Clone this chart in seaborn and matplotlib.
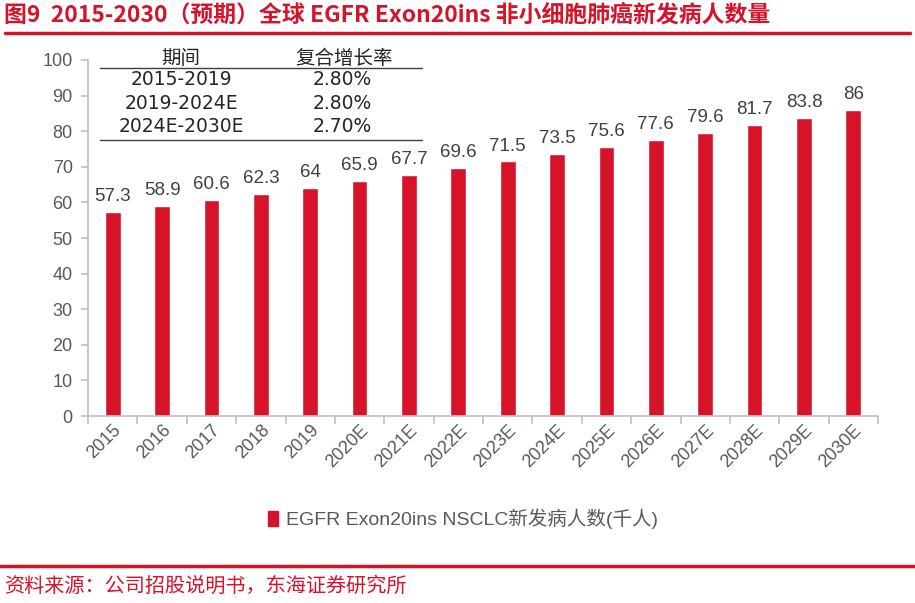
import pandas as pd
import seaborn as sns
import matplotlib.pyplot as plt
from matplotlib.patches import Patch

years = ["2015", "2016", "2017", "2018", "2019", "2020E", "2021E", "2022E",
         "2023E", "2024E", "2025E", "2026E", "2027E", "2028E", "2029E", "2030E"]
patients = [57.3, 58.9, 60.6, 62.3, 64, 65.9, 67.7, 69.6,
            71.5, 73.5, 75.6, 77.6, 79.6, 81.7, 83.8, 86]
periods = ["2015-2019", "2019-2024E", "2024E-2030E"]
cagr = ["2.80%", "2.80%", "2.70%"]

RED = "#D7132A"
GRAY = "#595959"
SERIES = "EGFR Exon20ins NSCLC新发病人数(千人)"

sns.set_theme(style="white")
plt.rcParams["font.family"] = ["Liberation Sans", "Noto Sans CJK SC", "DejaVu Sans"]
CJK = ["Noto Sans CJK SC", "DejaVu Sans"]
WIDE = ["DejaVu Sans", "Noto Sans CJK SC"]

df = pd.DataFrame({"year": years, "value": patients})

fig = plt.figure(figsize=(9.15, 6.03), dpi=100)
ax = fig.add_axes([0.0962, 0.3101, 0.8634, 0.5904])
sns.barplot(data=df, x="year", y="value", color=RED, width=0.32,
            saturation=1, ax=ax)

labels = [f"{v:g}" for v in patients]
ax.bar_label(ax.containers[0], labels=labels, padding=5, fontsize=13.5, color="#404040")

ax.set_xlim(-0.5, len(years) - 0.5)
ax.set_ylim(0, 100)
ax.set_yticks(range(0, 101, 10))
ax.set_xlabel("")
ax.set_ylabel("")
for s in ["top", "right"]:
    ax.spines[s].set_visible(False)
for s in ["left", "bottom"]:
    ax.spines[s].set_color("#BFBFBF")
    ax.spines[s].set_linewidth(1.2)

ax.tick_params(axis="y", labelsize=13, colors=GRAY, length=5, width=1.2, direction="out",
               left=True, color="#BFBFBF", pad=6)
ax.tick_params(axis="x", labelsize=13, colors=GRAY, length=0, pad=4, labelrotation=45)
for t in ax.get_yticklabels():
    t.set_color(GRAY)
for t in ax.get_xticklabels():
    t.set_ha("right")
    t.set_rotation_mode("anchor")
    t.set_color(GRAY)
# tick marks between categories
ax.set_xticks([i - 0.5 for i in range(len(years) + 1)], minor=True)
ax.tick_params(axis="x", which="minor", length=6, width=1.2, color="#BFBFBF", bottom=True)

# CAGR table
tr = ax.transAxes
ax.plot([0.015, 0.423], [0.9775, 0.9775], transform=tr, color="#404040", lw=1, clip_on=False)
ax.plot([0.015, 0.423], [0.775, 0.775], transform=tr, color="#404040", lw=1, clip_on=False)
ax.text(0.118, 1.003, "期间", transform=tr, ha="center", va="center", fontsize=14,
        color="#262626", family=CJK)
ax.text(0.324, 1.003, "复合增长率", transform=tr, ha="center", va="center", fontsize=14,
        color="#262626", family=CJK)
for i, (p, c) in enumerate(zip(periods, cagr)):
    y = 0.944 - i * 0.066
    ax.text(0.118, y, p, transform=tr, ha="center", va="center", fontsize=13.5,
            color="#262626", family=WIDE)
    ax.text(0.322, y, c, transform=tr, ha="center", va="center", fontsize=13.5,
            color="#262626", family=WIDE)

fig.legend(handles=[Patch(color=RED, label=SERIES)], loc="center", bbox_to_anchor=(0.506, 0.139),
           frameon=False, fontsize=14, handlelength=0.5, handleheight=0.8, handletextpad=0.4,
           labelcolor=GRAY)

# title and footer
fig.text(0.004, 0.975, "图9  2015-2030（预期）全球 EGFR Exon20ins 非小细胞肺癌新发病人数量",
         ha="left", va="center", fontsize=16.5, fontweight="bold", color=RED, family=CJK)
fig.add_artist(plt.Line2D([0.005, 0.995], [0.945, 0.945], transform=fig.transFigure,
                          color=RED, lw=2.5))
fig.add_artist(plt.Line2D([0.0, 1.0], [0.062, 0.062], transform=fig.transFigure,
                          color=RED, lw=2.5))
fig.text(0.004, 0.027, "资料来源：公司招股说明书，东海证券研究所", ha="left", va="center",
         fontsize=14.5, color=RED, family=CJK)

fig.savefig("out.png", dpi=100)
